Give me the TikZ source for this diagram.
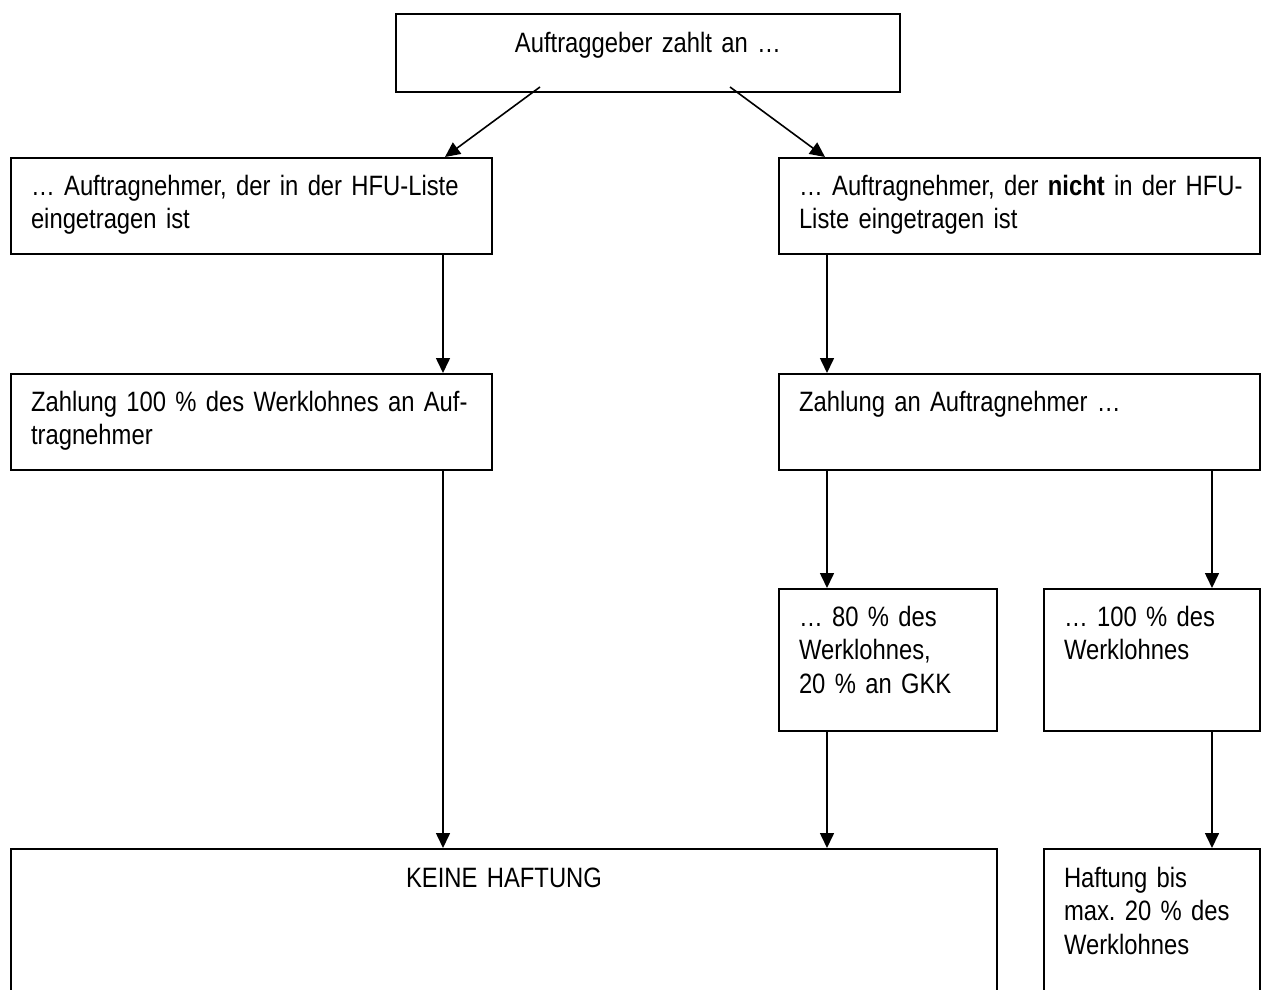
\documentclass[tikz,border=0pt]{standalone}
\usepackage{fontspec}
\setmainfont{Liberation Sans}[FakeStretch=0.85]
\usetikzlibrary{arrows.meta,calc,positioning}
\definecolor{haftInk}{HTML}{000000}
\frenchspacing
\newcommand\haftfont{\fontsize{28}{33.5}\selectfont}

\begin{document}
\begin{tikzpicture}[x=1pt,y=-1pt,>=Latex,line join=miter]
\useasboundingbox (0,0) rectangle (1261,990);
\path[fill=white] (0,0) rectangle (1261,990);
\clip (0,0) rectangle (1261,990);
\tikzset{box/.style={draw=haftInk,line width=2pt,rectangle,anchor=north west,align=left,inner xsep=20pt,inner ysep=0pt,text height=37pt,font=\haftfont},flow/.style={draw=haftInk,line width=1.6pt,-{Triangle[length=15pt,width=14pt]}}}
% Kaestchen
\node[box,align=center,text width=464pt,text height=39pt,text depth=39pt] (auftrag) at (395,13) {Auftraggeber zahlt an …};
\node[box,text width=441pt,text depth=59pt] (lin) at (10,157) {\mbox{… Auftragnehmer, der in der HFU-Liste}\\eingetragen ist};
\node[box,text width=441pt,text depth=59pt] (rin) at (778,157) {\mbox{… Auftragnehmer, der \textbf{nicht} in der HFU-}\\Liste eingetragen ist};
\node[box,text width=441pt,text depth=59pt] (lpay) at (10,373) {\mbox{Zahlung 100 \% des Werklohnes an Auf-}\\tragnehmer};
\node[box,text width=441pt,text depth=59pt] (rpay) at (778,373) {Zahlung an Auftragnehmer …};
\node[box,text width=178pt,text depth=105pt] (gkk) at (778,588) {… 80 \% des\\Werklohnes,\\20 \% an GKK};
\node[box,text width=176pt,text depth=105pt] (voll) at (1043,588) {… 100 \% des\\Werklohnes};
\node[box,align=center,text width=946pt,text height=38pt,text depth=124pt] (keine) at (10,848) {KEINE HAFTUNG};
\node[box,text width=176pt,text height=38pt,text depth=124pt] (haft) at (1043,848) {Haftung bis\\max. 20 \% des\\Werklohnes};
% Spalten der Pfeile
\coordinate (xa) at (443,0); \coordinate (xb) at (827,0); \coordinate (xc) at (1212,0);
\draw[flow] ([xshift=145pt,yshift=6pt]auftrag.south west) -- ([xshift=435pt]lin.north west);
\draw[flow] ([xshift=335pt,yshift=6pt]auftrag.south west) -- ([xshift=47pt]rin.north west);
\draw[flow] (lin.south -| xa) -- (lpay.north -| xa);
\draw[flow] (rin.south -| xb) -- (rpay.north -| xb);
\draw[flow] (lpay.south -| xa) -- (keine.north -| xa);
\draw[flow] (rpay.south -| xb) -- (gkk.north -| xb);
\draw[flow] (rpay.south -| xc) -- (voll.north -| xc);
\draw[flow] (gkk.south -| xb) -- (keine.north -| xb);
\draw[flow] (voll.south -| xc) -- (haft.north -| xc);
\end{tikzpicture}
\end{document}
